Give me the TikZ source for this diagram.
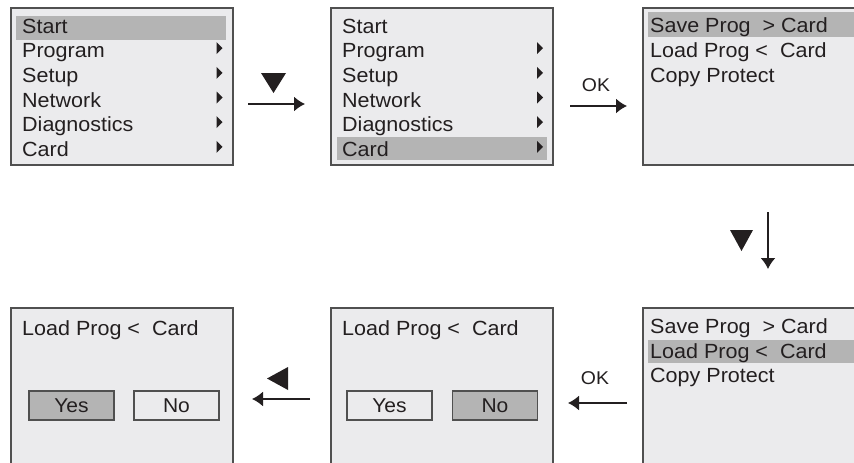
\documentclass[tikz,border=0pt]{standalone}
\usepackage{fontspec}
\setmainfont{Liberation Sans}[FakeStretch=1.05]
\usepackage{tikz}
\usetikzlibrary{arrows.meta}
\definecolor{screenbg}{HTML}{EBEBED}
\definecolor{hilite}{HTML}{B4B4B4}
\definecolor{framecol}{HTML}{505050}
\definecolor{ink}{HTML}{231F20}
\tikzstyle{screen}=[rectangle, draw=framecol, fill=screenbg, line width=1.5pt, inner sep=0pt, minimum width=222pt, minimum height=157pt]
\tikzstyle{menutext}=[font=\fontsize{20.5}{24}\selectfont, text=ink, anchor=base west, inner sep=0pt]
\tikzstyle{btn}=[rectangle, draw=framecol, fill=screenbg, line width=1.2pt, inner sep=0pt, minimum width=85pt, minimum height=29pt, font=\fontsize{20}{24}\selectfont, text=ink]
\tikzstyle{keylbl}=[font=\fontsize{18.5}{22}\selectfont, text=ink, inner sep=0pt]
\tikzstyle{dedge}=[draw=ink, line width=1.5pt, -{Latex[length=11pt,width=15pt]}]

\begin{document}
\begin{tikzpicture}[x=1pt, y=-1pt]
	\useasboundingbox (0,0) rectangle (854,463);
	\clip (0,0) rectangle (854,463);
	
	% top row of screens
	\node[screen] (s1) at (122,86.5) {};
	\node[screen] (s2) at (442,86.5) {};
	\node[screen, minimum width=240pt] (s3) at (763,86.5) {};
	% bottom row of screens
	\node[screen, minimum height=200pt] (s6) at (122,408) {};
	\node[screen, minimum height=200pt] (s5) at (442,408) {};
	\node[screen, minimum width=240pt, minimum height=200pt] (s4) at (763,408) {};
	
	% cursor bars
	\fill[hilite] (16,16) rectangle (226,40);
	\fill[hilite] (337,137) rectangle (547,160);
	\fill[hilite] (648,12) rectangle (860,37);
	\fill[hilite] (648,340) rectangle (860,363);
	
	\node[menutext] (start1) at (22,33) {Start};
	\node[menutext] (prog1) at (22,57.7) {Program};
	\node[menutext] (setup1) at (22,82.3) {Setup};
	\node[menutext] (net1) at (22,107) {Network};
	\node[menutext] (diag1) at (22,131.6) {Diagnostics};
	\node[menutext] (card1) at (22,156.3) {Card};
	
	\node[menutext] (start2) at (342,33) {Start};
	\node[menutext] (prog2) at (342,57.7) {Program};
	\node[menutext] (setup2) at (342,82.3) {Setup};
	\node[menutext] (net2) at (342,107) {Network};
	\node[menutext] (diag2) at (342,131.6) {Diagnostics};
	\node[menutext] (card2) at (342,156.3) {Card};
	
	\foreach \y in {57.7,82.3,107,131.6,156.3}{
		\fill[ink] (216.5,\y-15.5) -- (222.5,\y-9.5) -- (216.5,\y-3.5) -- cycle;
		\fill[ink] (537,\y-15.5) -- (543,\y-9.5) -- (537,\y-3.5) -- cycle;
	}
	
	\node[menutext] (save3) at (650,32) {Save Prog\ \ > Card};
	\node[menutext] (load3) at (650,57.5) {Load Prog <\ \ Card};
	\node[menutext] (copy3) at (650,82) {Copy Protect};
	
	\node[menutext] (save4) at (650,333) {Save Prog\ \ > Card};
	\node[menutext] (load4) at (650,358) {Load Prog <\ \ Card};
	\node[menutext] (copy4) at (650,382.5) {Copy Protect};
	
	\node[menutext] (load5) at (342,335) {Load Prog <\ \ Card};
	\node[btn] (yes5) at (389.5,405.5) {Yes};
	\node[btn, fill=hilite] (no5) at (495,405.5) {No};
	
	\node[menutext] (load6) at (22,335) {Load Prog <\ \ Card};
	\node[btn, fill=hilite] (yes6) at (71.5,405.5) {Yes};
	\node[btn] (no6) at (176.5,405.5) {No};
	
	% key presses
	\coordinate (a1) at (248,104);
	\coordinate (b1) at (305,104);
	\draw[dedge] (a1) -- (b1);
	\fill[ink] (261,73) -- (286,73) -- (273.5,93) -- cycle;
	
	\coordinate (a2) at (570,106);
	\coordinate (b2) at (627,106);
	\draw[dedge] (a2) -- (b2);
	\node[keylbl] (ok1) at (596,85) {OK};
	
	\coordinate (a3) at (768,212);
	\coordinate (b3) at (768,269);
	\draw[dedge] (a3) -- (b3);
	\fill[ink] (730,230) -- (753,230) -- (741.5,251) -- cycle;
	
	\coordinate (a4) at (627,403);
	\coordinate (b4) at (568,403);
	\draw[dedge] (a4) -- (b4);
	\node[keylbl] (ok2) at (595,378) {OK};
	
	\coordinate (a5) at (310,399);
	\coordinate (b5) at (252,399);
	\draw[dedge] (a5) -- (b5);
	\fill[ink] (288,367) -- (288,390) -- (267,378.5) -- cycle;
\end{tikzpicture}
\end{document}
